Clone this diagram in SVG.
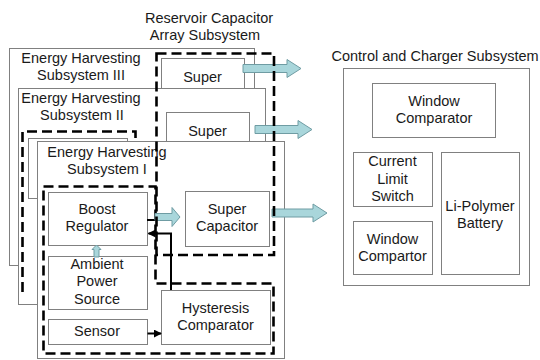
<svg xmlns="http://www.w3.org/2000/svg" width="540" height="360" viewBox="0 0 540 360">
<style>
text{font-family:"Liberation Sans",Arial,sans-serif;font-size:14.5px;fill:#1a1a1a;text-anchor:middle}
.box{fill:#fff;stroke:#808080;stroke-width:1}
.dash{fill:none;stroke:#000;stroke-width:2.6;stroke-dasharray:10 5}
.blk{fill:#a9d6db;stroke:#6f9ca3;stroke-width:1}
.wire{fill:none;stroke:#000;stroke-width:2}
</style>
<defs>
<marker id="ah" viewBox="0 0 10 10" refX="9" refY="5" markerWidth="4" markerHeight="4" orient="auto"><path d="M0,0 L10,5 L0,10 Z" fill="#000"/></marker>
</defs>
<rect width="540" height="360" fill="#fff"/>

<g id="subsystem3">
<rect class="box" x="9.5" y="48.5" width="245" height="217"/>
<text x="81" y="63">Energy Harvesting</text>
<text x="81" y="80">Subsystem III</text>
<rect class="box" x="161.5" y="58.5" width="83" height="40"/>
<text x="202.5" y="82">Super</text>
</g>
<g id="arrow3"><path class="blk" d="M243,64.5 H287 V59.5 L301,68.5 L287,77.5 V72.5 H243 Z"/></g>

<g id="subsystem2">
<rect class="box" x="18.5" y="88.5" width="247" height="216"/>
<text x="81" y="103">Energy Harvesting</text>
<text x="82" y="120">Subsystem II</text>
<rect class="box" x="166.5" y="112.5" width="83" height="40"/>
<text x="207.5" y="136">Super</text>
<path class="dash" d="M22.5,292 V131.5 H135.5 V143"/>
<rect class="box" x="28.5" y="138.5" width="99" height="60"/>
</g>
<g id="arrow2"><path class="blk" d="M255,125.5 H298 V120.5 L312,129.5 L298,138.5 V133.5 H255 Z"/></g>

<g id="subsystem1">
<rect class="box" x="37.5" y="141.5" width="247" height="217"/>
<text x="107" y="157">Energy Harvesting</text>
<text x="107" y="174">Subsystem I</text>
<path class="dash" d="M43.5,186.5 H155.5 V283.5 H273.5 V353.5 H43.5 Z"/>
</g>
<g id="boost">
<rect class="box" x="48.5" y="192.5" width="99" height="53"/>
<text x="97" y="214">Boost</text>
<text x="97" y="231">Regulator</text>
</g>
<g id="ambient">
<rect class="box" x="48.5" y="256.5" width="99" height="53"/>
<text x="97" y="269">Ambient</text>
<text x="97" y="286">Power</text>
<text x="97" y="304">Source</text>
</g>
<g id="sensor">
<rect class="box" x="48.5" y="319.5" width="99" height="25"/>
<text x="97" y="336">Sensor</text>
</g>
<g id="supercap">
<rect class="box" x="185.5" y="191.5" width="84" height="55"/>
<text x="227" y="214">Super</text>
<text x="227" y="231">Capacitor</text>
</g>
<g id="hysteresis">
<rect class="box" x="161.5" y="290.5" width="109" height="54"/>
<text x="215.5" y="313">Hysteresis</text>
<text x="215.5" y="330">Comparator</text>
</g>

<g id="connectors">
<path class="wire" d="M147,220 H156"/>
<path class="blk" d="M155,213.5 H172 V207.5 L180,217 L172,226.5 V220.5 H155 Z"/>
<path class="blk" d="M94,257 V249.5 H92 L96.5,245 L101,249.5 H99 V257 Z"/>
<path class="wire" d="M171,290 V233.5 H148.5" marker-end="url(#ah)"/>
<path class="wire" d="M147.5,333.5 H161" marker-end="url(#ah)"/>
<path class="blk" d="M272,209 H313 V204 L327,213 L313,222 V217 H272 Z"/>
</g>

<g id="reservoir">
<rect class="dash" x="156.5" y="53.5" width="117.5" height="201.5"/>
<text x="209" y="23">Reservoir Capacitor</text>
<text x="205" y="40">Array Subsystem</text>
</g>

<g id="control">
<text x="435" y="61">Control and Charger Subsystem</text>
<rect class="box" x="343.5" y="68.5" width="186" height="217"/>
</g>
<g id="windowcomp">
<rect class="box" x="372.5" y="83.5" width="123" height="54"/>
<text x="434" y="106">Window</text>
<text x="434" y="123">Comparator</text>
</g>
<g id="currentlimit">
<rect class="box" x="353.5" y="152.5" width="79" height="54"/>
<text x="392.5" y="166">Current</text>
<text x="392.5" y="184">Limit</text>
<text x="392.5" y="201">Switch</text>
</g>
<g id="battery">
<rect class="box" x="441.5" y="152.5" width="78" height="122"/>
<text x="480" y="211">Li-Polymer</text>
<text x="480" y="228">Battery</text>
</g>
<g id="windowcompartor">
<rect class="box" x="353.5" y="221.5" width="79" height="53"/>
<text x="392.5" y="244">Window</text>
<text x="392.5" y="261">Compartor</text>
</g>
</svg>
